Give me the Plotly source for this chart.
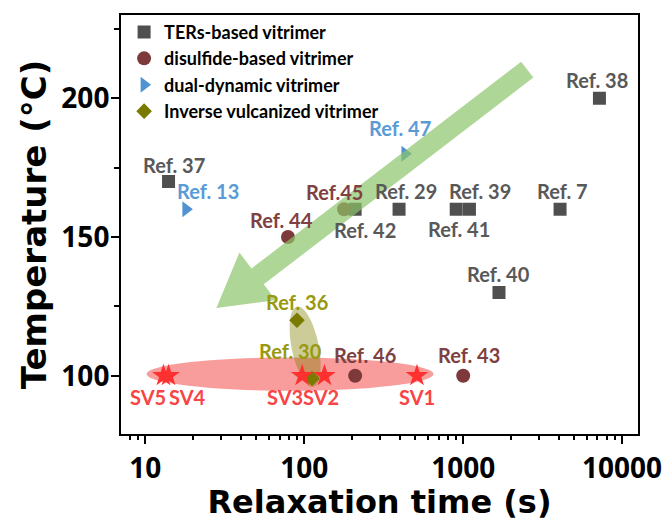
import numpy as np
import plotly.graph_objects as go

# ---------------- data ----------------
ters_labels = ["Ref. 37", "Ref. 42", "Ref. 29", "Ref. 41", "Ref. 39", "Ref. 7", "Ref. 38", "Ref. 40"]
ters_time = [14, 209, 395, 904, 1095, 4070, 7200, 1680]
ters_temp = [170, 160, 160, 160, 160, 160, 200, 130]

disulfide_labels = ["Ref. 44", "Ref.45", "Ref. 46", "Ref. 43"]
disulfide_time = [79, 178, 209, 1000]
disulfide_temp = [150, 160, 100, 100]

dual_labels = ["Ref. 13", "Ref. 47"]
dual_time = [18, 430]
dual_temp = [160, 180]

inverse_labels = ["Ref. 36", "Ref. 30"]
inverse_time = [90, 112]
inverse_temp = [120, 99]

sv_labels = ["SV1", "SV2", "SV3", "SV4", "SV5"]
sv_time = [512, 134, 97, 14, 13]
sv_temp = [100, 100, 100, 100, 100]

x_tick_vals = [10, 100, 1000, 10000]
x_tick_text = ["10", "100", "1000", "10000"]
y_tick_vals = [100, 150, 200]
y_tick_text = ["100", "150", "200"]

# ---------------- layout geometry ----------------
W, H = 669, 521
ML, MR, MT, MB = 121, 31, 15, 87
XR = [0.847, 4.10]
YR = [79, 230]
PW, PH = W - ML - MR, H - MT - MB

# label offsets in pixels (dx, dy up)
label_offsets = {
    "Ref. 37": (5, 16), "Ref. 42": (10, -21), "Ref. 29": (7, 18), "Ref. 41": (3, -20),
    "Ref. 39": (11, 18), "Ref. 7": (2, 18), "Ref. 38": (-2, 18), "Ref. 40": (0, 18),
    "Ref. 44": (-6, 17), "Ref.45": (-10, 17), "Ref. 46": (10, 21), "Ref. 43": (6, 21),
    "Ref. 13": (22, 18), "Ref. 47": (-5, 26),
    "Ref. 36": (0, 18), "Ref. 30": (-22, 28),
    "SV1": (0, -21), "SV2": (-3, -21), "SV3": (-17, -21), "SV4": (19, -21), "SV5": (-15, -21),
}

C_TERS, C_TERS_T = "#4f4f4f", "#595959"
C_DIS, C_DIS_T = "#7e3a3a", "#7f4141"
C_DUAL, C_DUAL_T = "#4f93d2", "#5b9bd5"
C_INV, C_INV_T = "#7a7a00", "#999910"
C_SV, C_SV_T = "#ff3030", "#f84444"

LABEL_FONT = "Lato"


def to_px(t, v):
    return ((np.log10(t) - XR[0]) / (XR[1] - XR[0]) * PW, (YR[1] - v) / (YR[1] - YR[0]) * PH)


def from_px(px, py):
    return (10 ** (XR[0] + px / PW * (XR[1] - XR[0])), YR[1] - py / PH * (YR[1] - YR[0]))


def path_from_px(points):
    segs = []
    for i, (px, py) in enumerate(points):
        x, y = from_px(px, py)
        segs.append(("M" if i == 0 else "L") + f"{x:.5f},{y:.5f}")
    return " ".join(segs) + " Z"


fig = go.Figure()

series = [
    ("TERs-based vitrimer", ters_time, ters_temp, ters_labels, "square", 13, C_TERS, C_TERS_T),
    ("disulfide-based vitrimer", disulfide_time, disulfide_temp, disulfide_labels, "circle", 14, C_DIS, C_DIS_T),
    ("dual-dynamic vitrimer", dual_time, dual_temp, dual_labels, "triangle-right", 14, C_DUAL, C_DUAL_T),
    ("Inverse vulcanized vitrimer", inverse_time, inverse_temp, inverse_labels, "diamond", 12, C_INV, C_INV_T),
]

annotations = []
for name, xs, ys, labs, sym, size, col, tcol in series:
    fig.add_trace(go.Scatter(x=xs, y=ys, mode="markers", name=name,
                             marker=dict(symbol=sym, size=size, color=col, line=dict(width=0))))
    for x, y, lab in zip(xs, ys, labs):
        dx, dy = label_offsets[lab]
        annotations.append(dict(x=np.log10(x), y=y, xref="x", yref="y", text=lab, showarrow=False,
                                xshift=dx, yshift=dy, xanchor="center", yanchor="middle",
                                font=dict(family=LABEL_FONT, size=20, color=tcol, weight="bold")))

fig.add_trace(go.Scatter(x=sv_time, y=sv_temp, mode="markers", showlegend=False, name="SV",
                         marker=dict(symbol="star", size=17, color=C_SV, line=dict(width=0))))
for x, y, lab in zip(sv_time, sv_temp, sv_labels):
    dx, dy = label_offsets[lab]
    annotations.append(dict(x=np.log10(x), y=y, xref="x", yref="y", text=lab, showarrow=False,
                            xshift=dx, yshift=dy, xanchor="center", yanchor="middle",
                            font=dict(family=LABEL_FONT, size=20, color=C_SV_T, weight="bold")))

# ---------------- decorative shapes ----------------
shapes = []
# red ellipse around SV samples
shapes.append(dict(type="circle", xref="x", yref="y", x0=10.2, x1=650, y0=94.6, y1=106.6,
                   fillcolor="rgba(242,45,45,0.47)", line=dict(width=0), layer="below"))

# olive tilted ellipse around inverse vulcanized points
p_top = np.array(to_px(90, 124.9))
p_bot = np.array(to_px(114, 96.0))
c = (p_top + p_bot) / 2
a_vec = (p_bot - p_top) / 2
u = a_vec / np.linalg.norm(a_vec)
b_vec = np.array([-u[1], u[0]]) * 13.5
th = np.linspace(0, 2 * np.pi, 60, endpoint=False)
ell = [tuple(c + np.cos(t) * a_vec + np.sin(t) * b_vec) for t in th]
shapes.append(dict(type="path", xref="x", yref="y", path=path_from_px(ell),
                   fillcolor="rgba(128,128,0,0.4)", line=dict(width=0), layer="below"))

# green arrow
tail = np.array(to_px(2530, 210.3))
tip = np.array(to_px(28, 124.4))
d = (tip - tail) / np.linalg.norm(tip - tail)
n = np.array([-d[1], d[0]])
shaft_hw, head_len, head_hw = 10, 52, 30
neck = tip - d * head_len
poly = [tail + n * shaft_hw, neck + n * shaft_hw, neck + n * head_hw, tip,
        neck - n * head_hw, neck - n * shaft_hw, tail - n * shaft_hw]
shapes.append(dict(type="path", xref="x", yref="y", path=path_from_px([tuple(p) for p in poly]),
                   fillcolor="rgb(140,196,106)", opacity=0.7, line=dict(width=0), layer="above"))

tick_font = dict(family="Open Sans", size=28, color="black", weight="bold")
x_title_font = dict(family="DejaVu Sans", size=32, color="black", weight="bold")
y_title_font = dict(family="DejaVu Sans", size=34, color="black", weight="bold")

x_minor = [m * 10 ** k for k in range(0, 5) for m in range(2, 10)]

fig.update_layout(
    width=W, height=H,
    margin=dict(l=ML, r=MR, t=MT, b=MB, autoexpand=False),
    paper_bgcolor="white", plot_bgcolor="white",
    shapes=shapes, annotations=annotations,
    showlegend=True,
    legend=dict(x=0.006, y=1.003, xanchor="left", yanchor="top", bgcolor="rgba(0,0,0,0)",
                font=dict(family="Lato", size=18, color="black", weight="bold"),
                itemwidth=30, tracegroupgap=0),
    xaxis=dict(type="log", range=XR, tickvals=x_tick_vals, ticktext=x_tick_text,
               ticks="outside", ticklen=8, tickwidth=2, tickcolor="black",
               showline=True, linewidth=2, linecolor="black", mirror=True,
               showgrid=False, zeroline=False, tickfont=tick_font,
               minor=dict(tickvals=x_minor, ticks="outside", ticklen=4, tickwidth=1.5, tickcolor="black", showgrid=False),
               title=dict(text="Relaxation time (s)", font=x_title_font, standoff=6),
               automargin=False),
    yaxis=dict(range=YR, tickvals=y_tick_vals, ticktext=y_tick_text,
               ticks="outside", ticklen=8, tickwidth=2, tickcolor="black",
               showline=True, linewidth=2, linecolor="black", mirror=True,
               showgrid=False, zeroline=False, tickfont=tick_font, ticklabelstandoff=-4,
               minor=dict(tickvals=[125, 175, 225], ticks="outside", ticklen=5, tickwidth=1.5, tickcolor="black", showgrid=False),
               title=dict(text="Temperature (°C)", font=y_title_font, standoff=4),
               automargin=False),
)

fig.write_html("out.html")
